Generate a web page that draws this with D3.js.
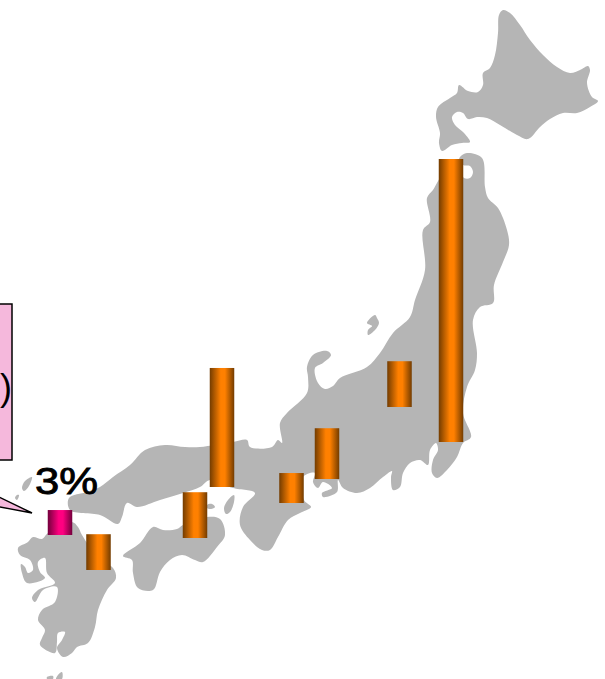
<!DOCTYPE html>
<html><head><meta charset="utf-8">
<style>html,body{margin:0;padding:0;background:#fff;overflow:hidden}svg{display:block}</style>
<script src="https://cdn.jsdelivr.net/npm/d3@7"></script></head><body>
<div id="chart"></div>
<script>
// Data: regional values (%), with the map location each column stands on
const regions = ["Kyushu (highlight)","Kyushu","Shikoku","Chugoku","Kansai","Chubu","Kanto","Tohoku"];
const values = [3,4.3,5.5,14.3,3.6,6.1,5.5,34];
const siteX = [60,98.5,195,222,291.5,327,399.5,451];
const siteBase = [535,570,538,487,503,479,407,442];
const highlighted = ["Kyushu (highlight)"];
const labelText = "3%";
const calloutText = ")";

// Map outlines in map units
const hokkaido = [[503,10],[510,13],[520,25],[530,40],[543,55],[557,67],[570,73],[580,70],[588,66],[590,70],[587,83],[592,97],[598,101],[590,107],[577,113],[563,113],[550,119],[540,127],[528,139],[517,135],[500,125],[487,118],[477,117],[468,119],[463,113],[457,112],[452,117],[455,125],[463,132],[470,142],[462,143],[452,145],[442,151],[439,143],[440,133],[436,117],[438,107],[450,98],[457,93],[459,85],[468,91],[478,92],[483,85],[483,73],[490,68],[495,55],[498,33],[499,15]];
const honshu = [[460,157],[467,153],[482,158],[485,187],[488,198],[498,208],[507,230],[509,245],[503,262],[494,285],[493,303],[480,307],[473,320],[477,353],[475,370],[467,387],[463,413],[471,437],[463,443],[457,457],[447,470],[437,478],[432,473],[433,460],[438,450],[436,443],[430,450],[428,465],[420,460],[410,463],[403,473],[400,487],[393,490],[391,477],[392,471],[383,477],[370,488],[357,493],[343,488],[338,480],[337,492],[323,497],[322,493],[332,488],[323,482],[318,488],[313,482],[315,473],[303,477],[304,500],[311,507],[300,513],[288,520],[278,537],[270,550],[262,550],[250,540],[240,525],[243,507],[255,493],[233,488],[210,480],[200,487],[183,493],[160,500],[137,507],[127,503],[122,517],[118,524],[100,515],[70,510],[69,498],[87,492],[100,487],[113,477],[130,465],[145,450],[165,445],[185,447],[200,447],[233,442],[247,440],[250,447],[272,447],[278,440],[282,443],[280,423],[287,413],[307,393],[308,377],[307,367],[313,355],[327,351],[331,355],[323,363],[315,368],[318,383],[325,389],[333,386],[340,378],[367,367],[380,353],[393,333],[410,317],[415,300],[425,270],[423,230],[430,222],[427,198],[433,190],[445,172],[459,170],[464,178],[470,178],[473,172],[470,166],[463,165],[459,160]];
const sado = [[367,323],[375,315],[377,318],[379,323],[375,330],[368,335],[368,330],[372,326]];
const shikoku = [[123,556],[140,543],[153,527],[163,530],[177,529],[183,525],[207,517],[220,519],[225,535],[217,547],[203,562],[195,560],[182,555],[170,560],[160,572],[153,590],[138,588],[133,573],[132,560]];
const kyushu = [[72,522],[78,527],[82,535],[100,560],[113,568],[116,578],[107,590],[98,610],[95,627],[88,643],[77,647],[72,653],[63,657],[57,648],[62,640],[65,632],[58,633],[57,642],[55,653],[40,645],[42,638],[45,630],[38,620],[42,610],[55,602],[57,587],[43,590],[35,602],[32,598],[38,590],[55,583],[47,573],[45,558],[38,562],[40,572],[45,578],[27,583],[22,573],[21,564],[25,567],[28,573],[33,570],[30,560],[20,555],[18,548],[28,542],[33,537],[42,539],[48,533]];
const awaji = [[234,495],[234,502],[230,512],[226,514],[224,508],[228,500]];
const shodo = [[207,505],[212,504],[215,507],[211,509],[207,508]];
const tsushimaA = [[32,477],[29,486],[24,491],[22,488],[25,481]];
const tsushimaB = [[19,495],[17,500],[15,498],[17,495]];
const tanega = [[62,672],[62,679],[56,679],[58,675]];
const yaku = [[47,677],[53,676],[53,679],[47,679]];
const landShapes = [hokkaido,honshu,sado,shikoku,kyushu,awaji,shodo,tsushimaA,tsushimaB,tanega,yaku];
const calloutBox = [[-20,304],[12,460]];
const calloutPointer = [[-5,495],[32,513],[-5,506]];

const width = 605, height = 679;
const mapX = d3.scaleLinear().domain([0,605]).range([0,width]);
const mapY = d3.scaleLinear().domain([0,679]).range([0,height]);
const barH = d3.scaleLinear().domain([0,34]).range([0,283]);
const barW = 24.5;

const svg = d3.select("#chart").append("svg").attr("width",width).attr("height",height);
const defs = svg.append("defs");
function grad(id, dark, mid){
  const g = defs.append("linearGradient").attr("id",id).attr("x1",0).attr("x2",1).attr("y1",0).attr("y2",0);
  [[0,dark],[0.45,mid],[0.62,mid],[1,dark]].forEach(s=>g.append("stop").attr("offset",s[0]).attr("stop-color",s[1]));
}
grad("gOrange","#733c00","#ff8000");
grad("gPink","#73003c","#ff0080");
defs.append("filter").attr("id","soft").append("feGaussianBlur").attr("stdDeviation",0.45);

const line = d3.line().x(d=>mapX(d[0])).y(d=>mapY(d[1])).curve(d3.curveCatmullRomClosed.alpha(0.5));
svg.append("g").attr("filter","url(#soft)").selectAll("path").data(landShapes).join("path")
  .attr("d",line).attr("fill","#b5b5b5");

// Callout
svg.append("rect")
  .attr("x",mapX(calloutBox[0][0])).attr("y",mapY(calloutBox[0][1]))
  .attr("width",mapX(calloutBox[1][0])-mapX(calloutBox[0][0]))
  .attr("height",mapY(calloutBox[1][1])-mapY(calloutBox[0][1]))
  .attr("fill","#f5b8dc").attr("stroke","#000").attr("stroke-width",1.5);
svg.append("path").attr("d",d3.line().x(d=>mapX(d[0])).y(d=>mapY(d[1]))(calloutPointer)+"Z")
  .attr("fill","#f5b8dc").attr("stroke","#000").attr("stroke-width",1.4);
svg.append("text").attr("x",0).attr("y",400)
  .attr("font-family","Liberation Sans").attr("font-size",36).text(calloutText);

// Columns
const bars = regions.map((r,i)=>({r,v:values[i],x:siteX[i],b:siteBase[i]}));
svg.append("g").selectAll("rect").data(bars).join("rect")
  .attr("x",d=>mapX(d.x)-barW/2)
  .attr("y",d=>mapY(d.b)-barH(d.v))
  .attr("width",barW)
  .attr("height",d=>barH(d.v))
  .attr("fill",d=>highlighted.includes(d.r)?"url(#gPink)":"url(#gOrange)");

svg.append("text").attr("x",35).attr("y",494)
  .attr("font-family","Liberation Sans").attr("font-size",37)
  .attr("stroke","#000").attr("stroke-width",0.9)
  .attr("textLength",63).attr("lengthAdjust","spacingAndGlyphs")
  .text(labelText);
</script></body></html>
